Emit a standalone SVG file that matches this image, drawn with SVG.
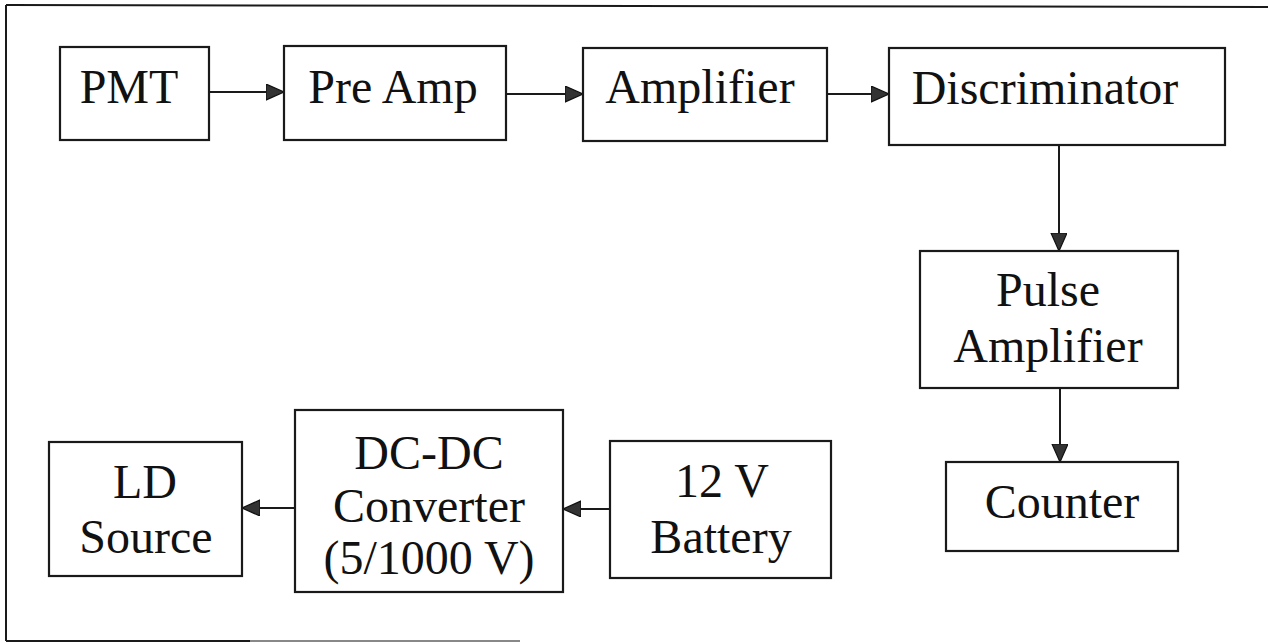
<svg xmlns="http://www.w3.org/2000/svg" width="1268" height="644" viewBox="0 0 1268 644">
<style>
.box{fill:#fff;stroke:#1a1a1a;stroke-width:2.2}
.lbl{font-size:48px;fill:#111;text-anchor:middle}
.con{stroke:#1a1a1a;stroke-width:2;fill:none}
.frame{stroke:#1a1a1a;stroke-width:2;fill:none}
</style>
<defs>
<marker id="ah" markerUnits="userSpaceOnUse" markerWidth="20" markerHeight="18" refX="18" refY="8" orient="auto">
<path d="M0,0 L18,8 L0,16 Z" fill="#333" stroke="#111" stroke-width="1.2"/>
</marker>
</defs>
<rect width="1268" height="644" fill="#fff"/>
<g id="frame">
<line class="frame" x1="6" y1="5" x2="1268" y2="7"/>
<line class="frame" x1="6" y1="5" x2="6" y2="641"/>
<line class="frame" x1="6" y1="641" x2="250" y2="641"/>
<line x1="250" y1="641" x2="520" y2="641" stroke="#888" stroke-width="2"/>
</g>
<g id="connectors">
<line class="con" x1="209" y1="92" x2="284" y2="92" marker-end="url(#ah)"/>
<line class="con" x1="506" y1="94" x2="583" y2="94" marker-end="url(#ah)"/>
<line class="con" x1="827" y1="94" x2="889" y2="94" marker-end="url(#ah)"/>
<line class="con" x1="1059" y1="145" x2="1059" y2="251" marker-end="url(#ah)"/>
<line class="con" x1="1060" y1="388" x2="1060" y2="462" marker-end="url(#ah)"/>
<line class="con" x1="610" y1="509" x2="563" y2="509" marker-end="url(#ah)"/>
<line class="con" x1="295" y1="508" x2="242" y2="508" marker-end="url(#ah)"/>
</g>
<g font-family="'Liberation Serif', 'Times New Roman', 'DejaVu Serif', serif">
<g id="pmt"><rect class="box" x="60" y="47" width="149" height="93"/><text class="lbl" x="129" y="103">PMT</text></g>
<g id="preamp"><rect class="box" x="284" y="46" width="222" height="94"/><text class="lbl" x="393" y="103">Pre Amp</text></g>
<g id="amplifier"><rect class="box" x="583" y="48" width="244" height="93"/><text class="lbl" x="700" y="103">Amplifier</text></g>
<g id="discriminator"><rect class="box" x="889" y="48" width="336" height="97"/><text class="lbl" x="1045" y="104">Discriminator</text></g>
<g id="pulseamp"><rect class="box" x="920" y="251" width="258" height="137"/><text class="lbl" x="1048" y="306">Pulse</text><text class="lbl" x="1048" y="362">Amplifier</text></g>
<g id="counter"><rect class="box" x="946" y="462" width="232" height="89"/><text class="lbl" x="1062" y="518">Counter</text></g>
<g id="battery"><rect class="box" x="610" y="441" width="221" height="137"/><text class="lbl" x="722" y="497">12 V</text><text class="lbl" x="721" y="553">Battery</text></g>
<g id="dcdc"><rect class="box" x="295" y="410" width="268" height="182"/><text class="lbl" x="429" y="469">DC-DC</text><text class="lbl" x="429" y="522">Converter</text><text class="lbl" x="429" y="574">(5/1000 V)</text></g>
<g id="ldsource"><rect class="box" x="49" y="442" width="193" height="134"/><text class="lbl" x="145" y="498">LD</text><text class="lbl" x="146" y="553">Source</text></g>
</g>
</svg>
